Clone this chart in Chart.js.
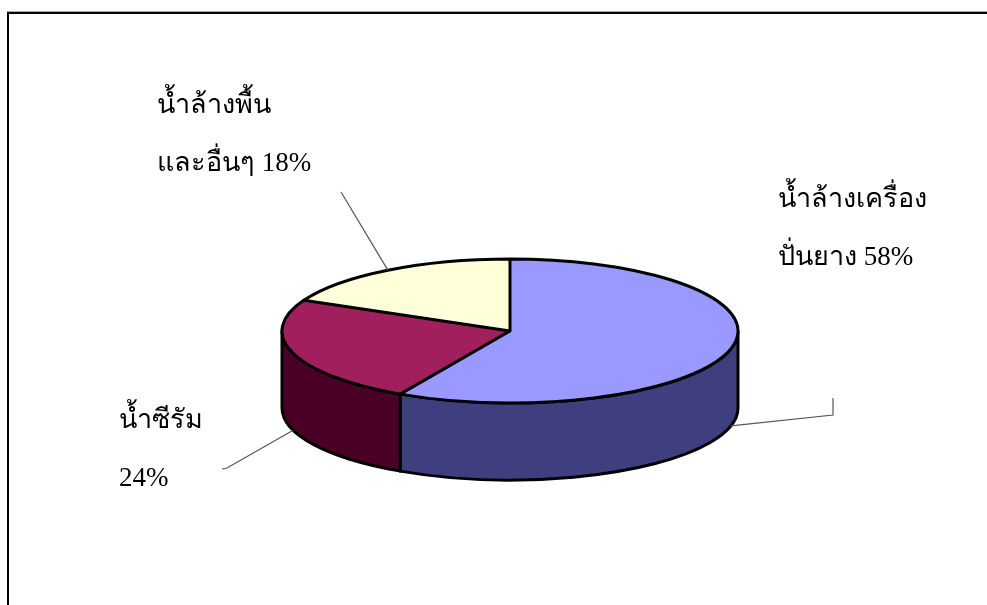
<!DOCTYPE html>
<html>
<head>
<meta charset="utf-8">
<script src="https://cdn.jsdelivr.net/npm/chart.js@4/dist/chart.umd.min.js"></script>
<style>
  html, body { margin: 0; padding: 0; background: #fff; overflow: hidden; }
  canvas { display: block; }
</style>
</head>
<body>
<canvas id="c" width="987" height="605"></canvas>
<script>
// Wastewater sources, share of total (%)
const labelHead = ['น้ำล้างเครื่อง', 'น้ำซีรัม', 'น้ำล้างพื้น'];
const labelTail = ['ปั่นยาง', '', 'และอื่นๆ'];
const shares = [58, 24, 18];
const categories = labelHead.map((h, i) => h + labelTail[i]);

const topColors = ['#9999FF', '#A11F5C', '#FFFFDA'];
const sideColors = ['#3F3F80', '#4A0026', '#80806D'];

// label placement (left edge / baseline of first line) and leader elbows
const labelPos = [
  { x: 778, y: 207, line: [[833, 415], [833, 398]] },
  { x: 119, y: 428, line: [[227, 468], [222, 469]] },
  { x: 157, y: 113, line: [[341, 192]] }
];

const TILT = 0.316;   // vertical squash of the pie top
const DEPTH = 77;     // thickness of the pie wall in px

function frontSegments(s, e) {
  const out = [];
  for (let k = -1; k <= 1; k++) {
    const lo = Math.max(s, 2 * Math.PI * k);
    const hi = Math.min(e, Math.PI + 2 * Math.PI * k);
    if (hi > lo) out.push([lo, hi]);
  }
  return out;
}

function geom(chart) {
  const arcs = chart.getDatasetMeta(0).data;
  const p = arcs[0].getProps(['x', 'y', 'outerRadius'], true);
  return { arcs, cx: p.x, cy: p.y, r: p.outerRadius, ry: p.outerRadius * TILT };
}

const frame = {
  id: 'frame',
  beforeDraw(chart) {
    const ctx = chart.ctx;
    ctx.save();
    ctx.fillStyle = '#aaa';
    ctx.fillRect(7, 11, 980, 1);
    ctx.fillStyle = '#000';
    ctx.fillRect(7, 12, 980, 2);
    ctx.fillRect(7, 12, 2, 593);
    ctx.restore();
  }
};

const pie3d = {
  id: 'pie3d',
  beforeDatasetsDraw(chart) {
    const ctx = chart.ctx;
    const { arcs, cx, cy, r, ry } = geom(chart);
    ctx.save();
    ctx.lineWidth = 3;
    ctx.strokeStyle = '#000';
    ctx.lineJoin = 'round';
    arcs.forEach((arc, i) => {
      const a = arc.getProps(['startAngle', 'endAngle'], true);
      frontSegments(a.startAngle, a.endAngle).forEach(([b1, b2]) => {
        ctx.beginPath();
        ctx.ellipse(cx, cy, r, ry, 0, b1, b2, false);
        ctx.ellipse(cx, cy + DEPTH, r, ry, 0, b2, b1, true);
        ctx.closePath();
        ctx.fillStyle = sideColors[i];
        ctx.fill();
        ctx.stroke();
      });
    });
    ctx.restore();
    // squash the circular pie into the ellipse of the top face
    ctx.save();
    ctx.translate(cx, cy);
    ctx.scale(1, TILT);
    ctx.translate(-cx, -cy);
  },
  afterDatasetsDraw(chart) {
    const ctx = chart.ctx;
    const { arcs, cx, cy, r } = geom(chart);
    ctx.beginPath();
    arcs.forEach(arc => {
      const a = arc.getProps(['startAngle', 'endAngle'], true);
      ctx.moveTo(cx, cy);
      ctx.arc(cx, cy, r, a.startAngle, a.endAngle);
      ctx.closePath();
    });
    ctx.restore();   // stroke with an unscaled pen
    ctx.save();
    ctx.lineWidth = 3;
    ctx.strokeStyle = '#000';
    ctx.lineJoin = 'round';
    ctx.stroke();
    ctx.restore();
  },
  afterDraw(chart) {
    const ctx = chart.ctx;
    const { arcs, cx, cy, r, ry } = geom(chart);
    ctx.save();
    // leader lines
    ctx.strokeStyle = '#555';
    ctx.lineWidth = 1.2;
    arcs.forEach((arc, i) => {
      const a = arc.getProps(['startAngle', 'endAngle'], true);
      const m = (a.startAngle + a.endAngle) / 2;
      let sx = cx + r * Math.cos(m);
      let sy = cy + ry * Math.sin(m);
      if (Math.sin(m) > 0) sy += DEPTH;
      ctx.beginPath();
      ctx.moveTo(sx, sy);
      labelPos[i].line.forEach(([x, y]) => ctx.lineTo(x, y));
      ctx.stroke();
    });
    // labels
    ctx.fillStyle = '#000';
    ctx.font = '27px "Liberation Serif", "DejaVu Serif", serif';
    ctx.textBaseline = 'alphabetic';
    ctx.textAlign = 'left';
    shares.forEach((v, i) => {
      const p = labelPos[i];
      const tail = labelTail[i] ? labelTail[i] + ' ' + v + '%' : v + '%';
      ctx.fillText(labelHead[i], p.x, p.y);
      ctx.fillText(tail, p.x, p.y + 58);
    });
    ctx.restore();
  }
};

new Chart(document.getElementById('c'), {
  type: 'pie',
  data: {
    labels: categories,
    datasets: [{
      data: shares,
      backgroundColor: topColors,
      borderWidth: 0,
      hoverOffset: 0
    }]
  },
  options: {
    responsive: false,
    animation: false,
    events: [],
    layout: { padding: { left: 282, right: 249, top: 103, bottom: 46 } },
    plugins: {
      legend: { display: false },
      tooltip: { enabled: false }
    }
  },
  plugins: [frame, pie3d]
});
</script>
</body>
</html>
